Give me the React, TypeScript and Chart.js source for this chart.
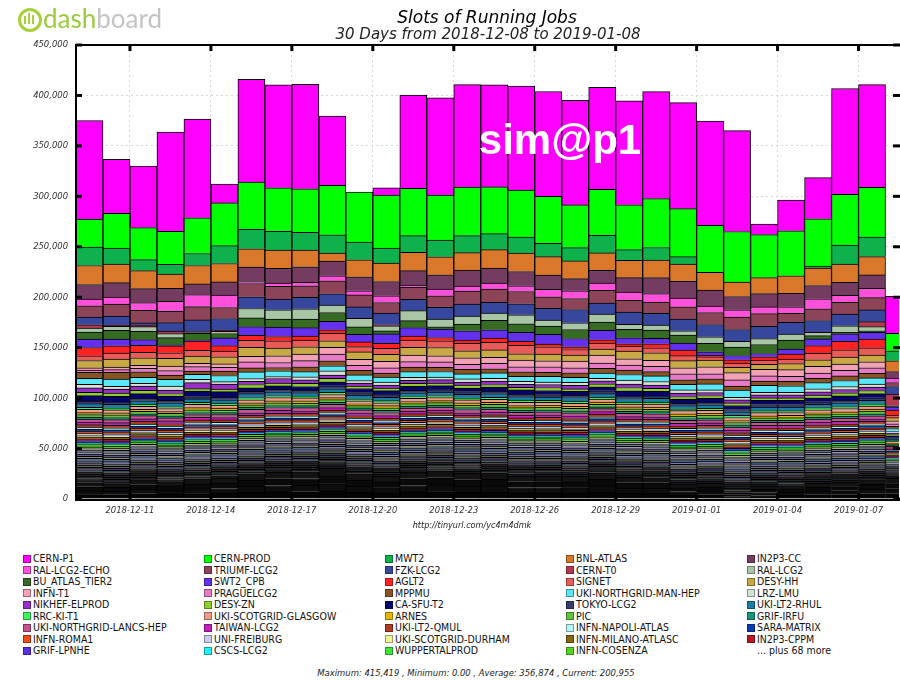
import React, { useEffect, useRef } from 'react';
import { Chart, registerables } from 'chart.js';

Chart.register(...registerables);

// ---------- categories / ticks ----------
const DAYS = [
  '2018-12-09', '2018-12-10', '2018-12-11', '2018-12-12', '2018-12-13', '2018-12-14', '2018-12-15', '2018-12-16',
  '2018-12-17', '2018-12-18', '2018-12-19', '2018-12-20', '2018-12-21', '2018-12-22', '2018-12-23', '2018-12-24',
  '2018-12-25', '2018-12-26', '2018-12-27', '2018-12-28', '2018-12-29', '2018-12-30', '2018-12-31', '2019-01-01',
  '2019-01-02', '2019-01-03', '2019-01-04', '2019-01-05', '2019-01-06', '2019-01-07', '2019-01-08',
];
const TICK_DAYS = [
  '2018-12-11', '2018-12-14', '2018-12-17', '2018-12-20', '2018-12-23',
  '2018-12-26', '2018-12-29', '2019-01-01', '2019-01-04', '2019-01-07',
];
const Y_TICKS = [0, 50000, 100000, 150000, 200000, 250000, 300000, 350000, 400000, 450000];

// ---------- series values (thousands of slots, one per day) ----------
const CERN_P1 = [97.8, 53.6, 61.1, 98.4, 97.8, 18.7, 101.9, 102.1, 103.5, 68.6, 0, 7.2, 92.4, 96.4, 101.7, 101.3, 103.0, 103.9, 103.7, 101.1, 103.0, 106.0, 105.1, 103.4, 100.1, 10.3, 30.4, 40.8, 105.0, 101.8, 36.7];
const CERN_PROD = [27.8, 34.4, 31.7, 32.7, 35.4, 42.3, 46.9, 43.2, 43.2, 49.0, 49.6, 52.6, 47.0, 44.6, 48.0, 46.3, 46.7, 46.6, 42.3, 45.5, 44.5, 48.5, 47.6, 46.7, 50.2, 42.6, 44.6, 46.9, 50.2, 49.5, 17.2];
const MWT2 = [18.2, 15.9, 10.9, 9.6, 11.9, 17.8, 19.2, 18.5, 17.5, 18.2, 17.5, 14.9, 16.5, 16.5, 16.9, 15.9, 15.9, 13.2, 13.2, 17.5, 10.6, 12.6, 7.3, 0, 0, 0, 0, 2.0, 18.8, 19.2, 9.9];
const BNL_ATLAS = [18.8, 18.5, 17.8, 14.2, 18.2, 18.2, 18.2, 18.2, 16.5, 7.9, 16.9, 18.2, 18.2, 17.8, 17.2, 18.2, 18.2, 18.2, 17.5, 17.2, 17.2, 17.2, 17.2, 17.5, 14.2, 15.9, 17.5, 17.2, 18.2, 18.2, 10.6];
const IN2P3_CC = [14.5, 14.2, 13.9, 12.9, 10.6, 13.2, 14.2, 14.5, 15.5, 14.5, 13.9, 14.2, 14.2, 14.2, 15.9, 14.9, 14.2, 14.2, 12.2, 12.6, 14.2, 15.9, 16.5, 15.9, 13.2, 13.2, 13.2, 13.2, 12.9, 13.2, 6.6];
const RAL_LCG2_ECHO = [6.6, 6.9, 7.6, 9.9, 11.9, 12.2, 2.0, 3.3, 3.3, 5.0, 4.0, 6.6, 2.3, 6.6, 5.0, 5.9, 5.6, 7.3, 7.6, 7.3, 8.3, 8.3, 8.6, 6.3, 7.3, 6.6, 6.6, 9.9, 6.9, 9.3, 4.3];
const TRIUMF_LCG2 = [11.2, 11.9, 12.6, 11.2, 13.2, 10.9, 13.2, 12.6, 11.6, 12.9, 11.9, 10.6, 11.9, 11.6, 12.9, 13.2, 12.2, 11.6, 10.9, 12.6, 11.6, 11.2, 12.2, 11.9, 12.2, 12.6, 8.9, 11.6, 11.6, 12.2, 4.0];
const FZK_LCG2 = [7.6, 9.3, 2.3, 8.3, 11.6, 11.6, 11.6, 10.6, 11.2, 11.2, 11.2, 11.6, 11.2, 11.6, 11.9, 10.6, 10.9, 11.6, 13.2, 10.9, 12.2, 11.6, 11.6, 12.2, 11.6, 12.2, 11.6, 11.6, 11.6, 11.6, 7.6];
const CERN_T0 = [3.3, 1.0, 1.3, 2.6, 0.7, 1.0, 0, 0, 0, 0, 0, 1.0, 0, 0, 0, 0, 0, 0, 0, 0, 0, 0, 0, 0, 0, 0, 0, 0, 0, 5.0, 11.5];
const RAL_LCG2 = [4.0, 4.0, 4.6, 4.0, 1.0, 2.3, 9.3, 9.3, 10.2, 7.3, 8.6, 5.0, 9.9, 7.6, 7.9, 7.3, 8.9, 5.9, 6.6, 7.9, 5.0, 5.0, 4.3, 6.6, 5.9, 5.9, 5.9, 3.3, 6.6, 4.0, 0.5];
const BU_ATLAS_TIER2 = [6.9, 8.6, 8.3, 7.3, 6.6, 4.3, 8.6, 7.9, 8.6, 8.9, 7.3, 3.0, 6.9, 2.3, 6.6, 9.3, 8.6, 8.3, 8.9, 8.3, 8.3, 8.3, 7.9, 8.3, 8.3, 8.9, 8.9, 3.3, 1.3, 1.7, 0.5];
const SWT2_CPB = [8.3, 6.6, 5.6, 0.7, 1.0, 7.6, 8.6, 9.3, 8.3, 8.3, 7.6, 9.3, 8.3, 8.3, 9.3, 8.3, 8.9, 9.6, 8.3, 9.3, 5.9, 5.3, 6.9, 3.3, 4.3, 3.3, 5.0, 6.6, 7.6, 6.6, 3.3];
const AGLT2 = [8.3, 7.3, 6.9, 6.9, 9.3, 5.6, 5.0, 4.3, 4.0, 3.6, 4.6, 5.0, 4.0, 3.3, 3.3, 4.0, 4.0, 2.6, 2.6, 3.3, 2.3, 4.0, 5.6, 1.7, 3.3, 3.3, 5.0, 7.6, 8.3, 8.6, 5.0];
const SIGNET = [4.6, 5.9, 5.6, 5.6, 5.6, 5.6, 6.9, 7.3, 6.6, 7.3, 5.3, 5.9, 7.3, 6.6, 7.3, 7.6, 8.3, 7.3, 5.6, 5.9, 5.0, 5.0, 5.0, 3.3, 4.0, 4.0, 4.5, 6.6, 7.3, 7.3, 2.5];
const DESY_HH = [7.3, 7.9, 7.5, 7.6, 7.2, 7.0, 8.9, 7.6, 7.2, 6.5, 7.3, 7.0, 7.6, 8.3, 6.9, 7.3, 6.3, 6.6, 6.0, 6.0, 7.6, 7.4, 7.0, 6.5, 5.3, 5.0, 6.0, 6.5, 6.8, 6.6, 3.0];
const INFN_T1 = [2.2, 2.6, 3.0, 4.5, 3.3, 3.5, 5.6, 6.6, 6.6, 6.7, 6.0, 6.5, 6.5, 6.0, 6.5, 6.0, 6.5, 6.0, 6.5, 8.0, 6.3, 6.0, 6.0, 7.0, 7.3, 6.6, 6.5, 6.5, 6.3, 6.0, 3.0];
const PRAGUELCG2 = [2.2, 2.7, 3.3, 4.5, 4.3, 3.5, 6.0, 5.0, 6.0, 6.6, 5.0, 5.0, 5.5, 5.5, 5.0, 5.5, 5.0, 5.5, 5.0, 5.0, 5.0, 5.2, 6.0, 5.0, 6.0, 5.0, 5.0, 5.3, 5.5, 5.5, 2.5];
const MPPMU = [6.0, 6.6, 5.6, 4.3, 3.3, 4.5, 3.9, 3.3, 4.9, 5.0, 4.5, 4.0, 4.5, 4.0, 4.5, 4.0, 4.5, 4.0, 4.5, 4.9, 4.3, 4.3, 4.5, 5.0, 4.0, 4.3, 4.5, 4.3, 4.5, 4.5, 2.2];
const UKI_NORTHGRID_MAN_HEP = [5.9, 7.3, 5.9, 6.6, 5.0, 6.0, 6.6, 5.6, 5.0, 4.9, 5.5, 5.0, 5.5, 5.5, 5.0, 5.5, 5.0, 5.5, 5.0, 5.0, 5.6, 5.5, 5.5, 6.0, 7.3, 7.0, 6.5, 6.0, 6.0, 6.0, 3.0];
const LRZ_LMU = [3.4, 2.6, 2.6, 4.0, 3.2, 2.5, 2.7, 2.0, 3.0, 4.3, 2.5, 3.0, 3.0, 2.5, 3.0, 2.5, 3.0, 2.5, 3.0, 2.5, 4.0, 3.5, 3.0, 2.5, 2.5, 2.5, 2.5, 3.0, 3.0, 3.0, 1.5];
const NIKHEF_ELPROD = [4.5, 3.9, 4.3, 3.3, 6.0, 5.0, 3.2, 4.6, 3.5, 3.3, 3.0, 3.0, 3.0, 3.5, 3.0, 3.5, 3.0, 3.0, 3.5, 3.0, 3.3, 3.3, 3.5, 3.0, 3.0, 3.0, 3.0, 3.2, 3.3, 3.5, 1.5];
const DESY_ZN = [3.4, 3.3, 3.3, 2.7, 2.4, 2.5, 3.4, 2.7, 3.2, 3.3, 2.5, 2.5, 3.0, 2.5, 3.0, 2.5, 2.5, 3.0, 2.5, 3.0, 3.3, 3.0, 2.5, 2.5, 2.5, 2.5, 2.5, 2.8, 3.0, 3.0, 1.2];
const CA_SFU_T2 = [5.3, 5.6, 4.3, 4.0, 5.5, 5.4, 3.3, 3.3, 3.5, 4.0, 4.0, 4.0, 4.0, 4.0, 3.5, 4.0, 4.0, 4.0, 3.5, 4.0, 5.0, 4.5, 4.0, 4.0, 4.0, 4.0, 4.0, 4.0, 4.2, 4.2, 2.0];
const TOKYO_LCG2 = [2.6, 2.4, 2.8, 2.5, 2.3, 2.7, 2.4, 2.6, 2.5, 2.9, 2.4, 2.6, 2.5, 2.3, 2.7, 2.5, 2.6, 2.4, 2.5, 2.8, 2.6, 2.4, 2.5, 2.7, 2.3, 2.5, 2.6, 2.4, 2.6, 2.5, 1.2];
const UKI_LT2_RHUL = [3.6, 3.4, 3.3, 3.7, 3.5, 3.2, 3.8, 3.6, 3.4, 3.5, 3.7, 3.3, 3.6, 3.5, 3.4, 3.8, 3.5, 3.3, 3.6, 3.4, 3.5, 3.7, 3.2, 3.5, 3.4, 3.6, 3.5, 3.3, 3.7, 3.5, 1.7];
const RRC_KI_T1 = [2.1, 1.9, 2.2, 2.0, 1.8, 2.1, 2.3, 2.0, 1.9, 2.2, 2.0, 2.1, 1.8, 2.0, 2.2, 1.9, 2.1, 2.0, 2.2, 1.9, 2.0, 2.1, 1.8, 2.0, 2.2, 2.0, 1.9, 2.1, 2.0, 2.2, 1.0];
const UKI_SCOTGRID_GLASGOW = [3.2, 3.0, 2.8, 3.1, 3.3, 2.9, 3.0, 3.2, 2.8, 3.1, 3.0, 2.9, 3.2, 3.1, 2.8, 3.0, 3.3, 2.9, 3.0, 3.1, 2.8, 3.0, 3.2, 2.9, 3.0, 3.1, 2.8, 3.0, 3.2, 2.9, 1.5];
const ARNES = [1.9, 2.1, 2.0, 1.8, 2.2, 2.0, 1.9, 2.1, 2.3, 2.0, 1.8, 2.1, 2.0, 1.9, 2.2, 2.0, 2.1, 1.8, 2.0, 2.2, 1.9, 2.0, 2.1, 1.8, 2.0, 2.1, 2.2, 1.9, 2.0, 2.1, 1.0];
const PIC = [2.4, 2.6, 2.5, 2.3, 2.7, 2.5, 2.4, 2.6, 2.5, 2.8, 2.3, 2.5, 2.6, 2.4, 2.5, 2.7, 2.4, 2.6, 2.3, 2.5, 2.6, 2.4, 2.5, 2.7, 2.3, 2.5, 2.6, 2.4, 2.5, 2.6, 1.2];
const GRIF_IRFU = [2.0, 2.2, 1.9, 2.1, 2.0, 1.8, 2.2, 2.0, 2.1, 1.9, 2.0, 2.2, 1.8, 2.1, 2.0, 1.9, 2.2, 2.0, 2.1, 1.8, 2.0, 2.1, 1.9, 2.0, 2.2, 1.9, 2.0, 2.1, 1.8, 2.0, 1.0];
const UKI_NORTHGRID_LANCS_HEP = [3.1, 2.9, 3.2, 3.0, 2.8, 3.1, 3.3, 2.9, 3.0, 3.2, 2.8, 3.0, 3.1, 2.9, 3.2, 3.0, 2.8, 3.1, 3.0, 2.9, 3.2, 3.0, 2.8, 3.1, 2.9, 3.0, 3.2, 2.9, 3.1, 3.0, 1.5];
const TAIWAN_LCG2 = [2.5, 2.7, 2.4, 2.6, 2.5, 2.3, 2.6, 2.8, 2.4, 2.5, 2.7, 2.4, 2.5, 2.6, 2.3, 2.5, 2.7, 2.4, 2.6, 2.5, 2.4, 2.6, 2.5, 2.3, 2.6, 2.5, 2.4, 2.7, 2.5, 2.4, 1.2];
const UKI_LT2_QMUL = [2.3, 2.5, 2.7, 2.4, 2.6, 2.5, 2.3, 2.5, 2.7, 2.4, 2.6, 2.5, 2.4, 2.6, 2.5, 2.3, 2.5, 2.7, 2.4, 2.6, 2.5, 2.3, 2.6, 2.5, 2.4, 2.6, 2.5, 2.7, 2.4, 2.5, 1.2];
const INFN_NAPOLI_ATLAS = [2.1, 2.0, 1.9, 2.2, 2.0, 2.1, 1.8, 2.0, 2.2, 2.1, 1.9, 2.0, 2.1, 1.8, 2.0, 2.2, 1.9, 2.1, 2.0, 1.9, 2.2, 2.0, 1.8, 2.1, 2.0, 1.9, 2.1, 2.0, 2.2, 1.9, 1.0];
const SARA_MATRIX = [2.0, 1.8, 2.1, 2.0, 2.2, 1.9, 2.0, 2.1, 1.8, 2.0, 2.2, 1.9, 2.0, 2.1, 1.9, 2.0, 1.8, 2.1, 2.0, 2.2, 1.9, 2.0, 2.1, 1.9, 2.0, 1.8, 2.1, 2.0, 1.9, 2.1, 1.0];
const INFN_ROMA1 = [1.9, 2.1, 2.0, 1.8, 2.0, 2.2, 2.1, 1.9, 2.0, 2.1, 1.8, 2.0, 2.2, 1.9, 2.0, 2.1, 2.0, 1.8, 2.1, 2.0, 1.9, 2.2, 2.0, 1.9, 2.1, 2.0, 1.8, 2.0, 2.1, 1.9, 1.0];
const UNI_FREIBURG = [2.1, 1.9, 2.0, 2.2, 1.8, 2.0, 2.1, 1.9, 2.2, 2.0, 1.9, 2.1, 2.0, 1.8, 2.1, 2.0, 2.2, 1.9, 2.0, 2.1, 1.8, 2.0, 1.9, 2.1, 2.0, 2.2, 1.9, 2.0, 2.1, 1.8, 1.0];
const UKI_SCOTGRID_DURHAM = [1.6, 1.4, 1.5, 1.7, 1.5, 1.3, 1.6, 1.5, 1.4, 1.6, 1.5, 1.7, 1.4, 1.5, 1.6, 1.4, 1.5, 1.6, 1.3, 1.5, 1.6, 1.4, 1.5, 1.7, 1.4, 1.5, 1.6, 1.5, 1.4, 1.6, 0.8];
const INFN_MILANO_ATLASC = [2.0, 2.1, 1.9, 2.0, 2.2, 1.8, 2.0, 2.1, 1.9, 2.2, 2.0, 1.8, 2.1, 2.0, 1.9, 2.1, 2.0, 2.2, 1.9, 2.0, 2.1, 1.9, 2.0, 1.8, 2.1, 2.0, 1.9, 2.1, 2.0, 2.2, 1.0];
const IN2P3_CPPM = [1.8, 1.7, 1.9, 1.8, 1.6, 1.9, 1.8, 2.0, 1.7, 1.8, 1.9, 1.7, 1.8, 2.0, 1.8, 1.6, 1.9, 1.8, 1.7, 1.9, 1.8, 1.7, 1.9, 1.8, 1.6, 1.8, 1.9, 1.7, 1.8, 2.0, 0.9];
const GRIF_LPNHE = [1.7, 1.9, 1.8, 1.6, 1.8, 2.0, 1.7, 1.8, 1.9, 1.7, 1.8, 1.9, 1.6, 1.8, 1.7, 1.9, 1.8, 1.7, 2.0, 1.8, 1.7, 1.9, 1.8, 1.6, 1.8, 1.9, 1.7, 1.8, 1.9, 1.7, 0.9];
const CSCS_LCG2 = [1.5, 1.6, 1.4, 1.5, 1.7, 1.5, 1.4, 1.6, 1.5, 1.3, 1.5, 1.6, 1.4, 1.5, 1.6, 1.5, 1.3, 1.5, 1.6, 1.4, 1.5, 1.7, 1.5, 1.4, 1.6, 1.5, 1.4, 1.5, 1.6, 1.5, 0.8];
const WUPPERTALPROD = [1.9, 1.7, 1.8, 1.9, 1.7, 1.8, 2.0, 1.8, 1.7, 1.9, 1.8, 1.7, 1.9, 1.8, 1.6, 1.8, 1.9, 1.7, 1.8, 2.0, 1.8, 1.7, 1.9, 1.8, 1.7, 1.9, 1.8, 1.6, 1.8, 1.9, 0.9];
const INFN_COSENZA = [1.8, 1.9, 1.7, 1.8, 2.0, 1.7, 1.8, 1.9, 1.8, 1.6, 1.8, 1.9, 1.7, 1.8, 1.9, 1.7, 1.8, 2.0, 1.8, 1.7, 1.9, 1.8, 1.7, 1.9, 1.8, 1.6, 1.8, 1.9, 1.7, 1.8, 0.9];

// "... plus 68 more": smaller sites, grouped
const MORE_01 = [2.2, 2.0, 2.4, 2.1, 2.3, 2.2, 2.0, 2.3, 2.1, 2.4, 2.2, 2.0, 2.3, 2.2, 2.1, 2.4, 2.2, 2.0, 2.3, 2.1, 2.2, 2.4, 2.0, 2.2, 2.3, 2.1, 2.2, 2.0, 2.3, 2.2, 1.1];
const MORE_02 = [2.1, 2.3, 2.2, 2.0, 2.4, 2.1, 2.3, 2.2, 2.0, 2.2, 2.4, 2.1, 2.2, 2.0, 2.3, 2.2, 2.1, 2.4, 2.2, 2.0, 2.3, 2.1, 2.2, 2.4, 2.0, 2.2, 2.3, 2.1, 2.2, 2.0, 1.1];
const MORE_03 = [2.3, 2.1, 2.0, 2.3, 2.2, 2.4, 2.1, 2.0, 2.3, 2.2, 2.1, 2.3, 2.0, 2.4, 2.2, 2.1, 2.3, 2.2, 2.0, 2.3, 2.1, 2.2, 2.4, 2.0, 2.2, 2.3, 2.1, 2.2, 2.0, 2.3, 1.1];
const MORE_04 = [2.0, 2.2, 2.3, 2.2, 2.0, 2.1, 2.4, 2.2, 2.2, 2.0, 2.3, 2.2, 2.1, 2.3, 2.0, 2.2, 2.4, 2.1, 2.2, 2.3, 2.0, 2.2, 2.1, 2.3, 2.2, 2.0, 2.4, 2.2, 2.1, 2.2, 1.1];
const MORE_05 = [2.4, 2.2, 2.1, 2.0, 2.3, 2.2, 2.2, 2.4, 2.1, 2.3, 2.0, 2.2, 2.4, 2.1, 2.2, 2.0, 2.3, 2.2, 2.1, 2.4, 2.2, 2.0, 2.3, 2.1, 2.2, 2.4, 2.0, 2.3, 2.2, 2.1, 1.1];
const MORE_06 = [2.2, 2.3, 2.0, 2.2, 2.1, 2.3, 2.2, 2.0, 2.4, 2.1, 2.2, 2.3, 2.0, 2.2, 2.4, 2.1, 2.0, 2.3, 2.2, 2.2, 2.4, 2.1, 2.0, 2.2, 2.3, 2.1, 2.2, 2.4, 2.0, 2.2, 1.1];
const MORE_07 = [2.1, 2.2, 2.3, 2.4, 2.0, 2.2, 2.1, 2.3, 2.2, 2.0, 2.1, 2.4, 2.2, 2.3, 2.0, 2.2, 2.1, 2.2, 2.4, 2.0, 2.2, 2.3, 2.1, 2.0, 2.2, 2.4, 2.1, 2.2, 2.3, 2.0, 1.1];
const MORE_08 = [2.3, 2.0, 2.2, 2.2, 2.4, 2.0, 2.3, 2.1, 2.2, 2.3, 2.0, 2.2, 2.1, 2.4, 2.2, 2.3, 2.0, 2.1, 2.2, 2.4, 2.0, 2.2, 2.3, 2.1, 2.0, 2.2, 2.4, 2.1, 2.2, 2.3, 1.1];
const MORE_09 = [2.2, 2.4, 2.1, 2.0, 2.2, 2.3, 2.2, 2.4, 2.0, 2.1, 2.3, 2.2, 2.2, 2.0, 2.4, 2.1, 2.3, 2.2, 2.0, 2.2, 2.1, 2.4, 2.2, 2.3, 2.0, 2.1, 2.2, 2.3, 2.4, 2.0, 1.1];
const MORE_10 = [2.0, 2.1, 2.3, 2.2, 2.2, 2.4, 2.0, 2.1, 2.3, 2.2, 2.4, 2.0, 2.2, 2.1, 2.3, 2.2, 2.0, 2.4, 2.1, 2.2, 2.3, 2.0, 2.2, 2.4, 2.1, 2.2, 2.0, 2.3, 2.2, 2.1, 1.1];
const MORE_11 = [2.4, 2.2, 2.2, 2.1, 2.0, 2.3, 2.2, 2.2, 2.4, 2.0, 2.1, 2.3, 2.2, 2.0, 2.2, 2.4, 2.1, 2.3, 2.2, 2.0, 2.2, 2.2, 2.4, 2.0, 2.3, 2.1, 2.2, 2.0, 2.3, 2.4, 1.1];
const MORE_12 = [2.1, 2.3, 2.0, 2.3, 2.2, 2.1, 2.4, 2.0, 2.2, 2.3, 2.2, 2.1, 2.4, 2.2, 2.0, 2.3, 2.2, 2.1, 2.0, 2.3, 2.4, 2.2, 2.1, 2.2, 2.0, 2.3, 2.1, 2.4, 2.2, 2.2, 1.1];
const MORE_13 = [2.2, 2.1, 2.4, 2.2, 2.1, 2.0, 2.3, 2.2, 2.1, 2.4, 2.0, 2.2, 2.3, 2.1, 2.2, 2.0, 2.4, 2.2, 2.3, 2.1, 2.0, 2.3, 2.2, 2.1, 2.4, 2.0, 2.2, 2.3, 2.1, 2.2, 1.1];
const MORE_14 = [2.3, 2.2, 2.1, 2.4, 2.2, 2.2, 2.0, 2.3, 2.2, 2.1, 2.2, 2.4, 2.0, 2.3, 2.1, 2.2, 2.2, 2.0, 2.4, 2.2, 2.1, 2.0, 2.3, 2.2, 2.2, 2.4, 2.1, 2.0, 2.3, 2.1, 1.1];
const MORE_15 = [2.0, 2.4, 2.2, 2.1, 2.3, 2.0, 2.2, 2.4, 2.1, 2.2, 2.3, 2.0, 2.2, 2.4, 2.1, 2.3, 2.2, 2.1, 2.0, 2.2, 2.4, 2.1, 2.2, 2.3, 2.2, 2.0, 2.3, 2.2, 2.1, 2.4, 1.1];
const MORE_16 = [2.2, 2.2, 2.3, 2.0, 2.4, 2.1, 2.2, 2.0, 2.3, 2.2, 2.1, 2.2, 2.4, 2.0, 2.3, 2.1, 2.2, 2.3, 2.2, 2.1, 2.0, 2.4, 2.1, 2.2, 2.3, 2.2, 2.0, 2.1, 2.4, 2.3, 1.1];
const TAIL_1 = [4.3, 4.1, 5.1, 4.6, 5.3, 5.5, 6.6, 7.0, 7.1, 7.9, 6.6, 5.9, 7.0, 7.3, 6.7, 6.8, 6.0, 6.0, 5.9, 6.8, 5.7, 5.6, 4.0, 4.2, 2.4, 3.5, 3.6, 4.2, 4.4, 5.1, 5.4];
const TAIL_2 = [3.7, 3.5, 4.5, 4.0, 4.7, 4.9, 6.0, 6.4, 6.5, 7.3, 6.0, 5.3, 6.4, 6.7, 6.1, 6.2, 5.4, 5.4, 5.3, 6.2, 5.1, 5.0, 3.4, 3.6, 1.8, 2.9, 3.0, 3.6, 3.8, 4.5, 4.8];
const TAIL_3 = [4.1, 3.9, 4.7, 4.4, 4.9, 5.3, 6.2, 6.8, 6.7, 7.7, 6.2, 5.7, 6.6, 7.1, 6.3, 6.6, 5.6, 5.8, 5.5, 6.6, 5.3, 5.4, 3.6, 4.0, 2.0, 3.3, 3.2, 4.0, 4.0, 4.9, 5.0];
const TAIL_4 = [3.9, 3.7, 4.9, 4.2, 5.1, 5.1, 6.4, 6.6, 6.9, 7.5, 6.4, 5.5, 6.8, 6.9, 6.5, 6.4, 5.8, 5.6, 5.7, 6.4, 5.5, 5.2, 3.8, 3.8, 2.2, 3.1, 3.4, 3.8, 4.2, 4.7, 5.2];

// legend order (largest first); stacked bottom-up in reverse
const NAMED: [string, string, number[]][] = [
  ['CERN-P1', '#ff00ff', CERN_P1],
  ['CERN-PROD', '#00ff00', CERN_PROD],
  ['MWT2', '#0fb14c', MWT2],
  ['BNL-ATLAS', '#d9782b', BNL_ATLAS],
  ['IN2P3-CC', '#743c60', IN2P3_CC],
  ['RAL-LCG2-ECHO', '#ff50dc', RAL_LCG2_ECHO],
  ['TRIUMF-LCG2', '#8e4458', TRIUMF_LCG2],
  ['FZK-LCG2', '#36479d', FZK_LCG2],
  ['CERN-T0', '#b23a50', CERN_T0],
  ['RAL-LCG2', '#a8c6a6', RAL_LCG2],
  ['BU_ATLAS_TIER2', '#356b22', BU_ATLAS_TIER2],
  ['SWT2_CPB', '#6331ee', SWT2_CPB],
  ['AGLT2', '#ff2222', AGLT2],
  ['SIGNET', '#e85b58', SIGNET],
  ['DESY-HH', '#c8a946', DESY_HH],
  ['INFN-T1', '#f2a2b4', INFN_T1],
  ['PRAGUELCG2', '#e87ac8', PRAGUELCG2],
  ['MPPMU', '#895425', MPPMU],
  ['UKI-NORTHGRID-MAN-HEP', '#5ae7f7', UKI_NORTHGRID_MAN_HEP],
  ['LRZ-LMU', '#d2e3d6', LRZ_LMU],
  ['NIKHEF-ELPROD', '#9a2fc7', NIKHEF_ELPROD],
  ['DESY-ZN', '#8ecf2d', DESY_ZN],
  ['CA-SFU-T2', '#05046b', CA_SFU_T2],
  ['TOKYO-LCG2', '#363c6e', TOKYO_LCG2],
  ['UKI-LT2-RHUL', '#1a7da8', UKI_LT2_RHUL],
  ['RRC-KI-T1', '#3cf25c', RRC_KI_T1],
  ['UKI-SCOTGRID-GLASGOW', '#ef9a8b', UKI_SCOTGRID_GLASGOW],
  ['ARNES', '#e5b505', ARNES],
  ['PIC', '#5ec43c', PIC],
  ['GRIF-IRFU', '#17977a', GRIF_IRFU],
  ['UKI-NORTHGRID-LANCS-HEP', '#c45390', UKI_NORTHGRID_LANCS_HEP],
  ['TAIWAN-LCG2', '#c21fbe', TAIWAN_LCG2],
  ['UKI-LT2-QMUL', '#b23b22', UKI_LT2_QMUL],
  ['INFN-NAPOLI-ATLAS', '#b5f3f1', INFN_NAPOLI_ATLAS],
  ['SARA-MATRIX', '#0b3cb3', SARA_MATRIX],
  ['INFN-ROMA1', '#ef4d14', INFN_ROMA1],
  ['UNI-FREIBURG', '#c9cdf2', UNI_FREIBURG],
  ['UKI-SCOTGRID-DURHAM', '#f3f09a', UKI_SCOTGRID_DURHAM],
  ['INFN-MILANO-ATLASC', '#85670f', INFN_MILANO_ATLASC],
  ['IN2P3-CPPM', '#bf1520', IN2P3_CPPM],
  ['GRIF-LPNHE', '#5a30e6', GRIF_LPNHE],
  ['CSCS-LCG2', '#1ff2f2', CSCS_LCG2],
  ['WUPPERTALPROD', '#3ee53d', WUPPERTALPROD],
  ['INFN-COSENZA', '#54d31c', INFN_COSENZA],
];

// bottom-up order of the unnamed small sites
const OTHERS: [string, string, number[]][] = [
  ['other-t1', '#050505', TAIL_1],
  ['other-t2', '#0d0d0d', TAIL_2],
  ['other-t3', '#0a0a0a', TAIL_3],
  ['other-t4', '#131313', TAIL_4],
  ['other-01', '#1c1c1c', MORE_01],
  ['other-02', '#242430', MORE_02],
  ['other-03', '#1e2a22', MORE_03],
  ['other-04', '#2e2030', MORE_04],
  ['other-05', '#303030', MORE_05],
  ['other-06', '#3a4a5a', MORE_06],
  ['other-07', '#4a3a6a', MORE_07],
  ['other-08', '#5a6a4a', MORE_08],
  ['other-09', '#6a6a7a', MORE_09],
  ['other-10', '#7a7aa8', MORE_10],
  ['other-11', '#4a6a8a', MORE_11],
  ['other-12', '#8a8a70', MORE_12],
  ['other-13', '#5a5a8a', MORE_13],
  ['other-14', '#9a9ab0', MORE_14],
  ['other-15', '#6a7a8a', MORE_15],
  ['other-16', '#a8a890', MORE_16],
];

const COND = '"DejaVu Sans Condensed", "DejaVu Sans", sans-serif';
const COL_X = [23, 204, 385, 566, 747];

const framePlugin = {
  id: 'frame',
  afterDatasetsDraw(chart: any) {
    const { ctx, chartArea: a, scales } = chart;
    ctx.save();
    ctx.fillStyle = '#000';
    ctx.fillRect(a.left - 1, a.top - 1, 2, a.bottom - a.top + 3);
    ctx.fillRect(a.left - 1, a.top - 1, a.right - a.left + 2, 2);
    ctx.fillRect(a.left - 1, a.bottom, a.right - a.left + 2, 2);
    for (const v of Y_TICKS) {
      const y = scales.y.getPixelForValue(v);
      ctx.fillRect(a.left, y - 1.5, 6, 3);
      ctx.fillRect(a.right - 6, y - 1.5, 7, 3);
    }
    for (const d of TICK_DAYS) {
      const x = scales.x.getPixelForValue(DAYS.indexOf(d));
      ctx.fillRect(x - 1.5, a.top, 3, 6);
      ctx.fillRect(x - 1.5, a.bottom - 6, 3, 6);
    }
    ctx.restore();
  },
};

export default function App() {
  const ref = useRef<HTMLCanvasElement | null>(null);

  useEffect(() => {
    if (!ref.current) return;
    const stack = [...OTHERS, ...NAMED.slice().reverse()];
    const datasets = stack.map(([label, color, vals]) => ({
      label,
      data: vals.map((v, i) => ({ x: i + 0.5, y: v * 1000 })),
      backgroundColor: color,
      borderColor: '#000',
      borderWidth: 1,
      barPercentage: 1,
      categoryPercentage: 1,
    }));
    const tickFont = { family: COND, size: 9.4, style: 'italic' as const };
    const chart = new Chart(ref.current, {
      type: 'bar',
      data: { datasets },
      options: {
        animation: false,
        responsive: false,
        devicePixelRatio: 1,
        events: [],
        layout: { padding: { top: 45, right: 1, left: 0, bottom: 0 } },
        plugins: { legend: { display: false }, tooltip: { enabled: false }, title: { display: false } },
        scales: {
          x: {
            type: 'linear',
            stacked: true,
            offset: false,
            min: 0,
            max: 30.5,
            afterBuildTicks: (scale: any) => {
              scale.ticks = TICK_DAYS.map((d) => ({ value: DAYS.indexOf(d) }));
            },
            afterFit: (scale: any) => {
              scale.height = 31;
            },
            ticks: {
              autoSkip: false,
              maxRotation: 0,
              minRotation: 0,
              padding: 6,
              color: '#333',
              font: tickFont,
              callback: (v: any) => DAYS[v as number] ?? '',
            },
            grid: { color: '#d6d6d6', drawTicks: false, offset: false },
            border: { display: false, dash: [2, 3] },
          },
          y: {
            stacked: true,
            min: 0,
            max: 450000,
            afterBuildTicks: (scale: any) => {
              scale.ticks = Y_TICKS.map((v) => ({ value: v }));
            },
            afterFit: (scale: any) => {
              scale.width = 76;
            },
            ticks: {
              padding: 8,
              color: '#333',
              font: tickFont,
              callback: (v: any) => Number(v).toLocaleString('en-US'),
            },
            grid: { color: '#d6d6d6', drawTicks: false },
            border: { display: false, dash: [2, 3] },
          },
        },
      },
      plugins: [framePlugin],
    } as any);
    return () => chart.destroy();
  }, []);

  const legendItems: { name: string; color: string | null }[] = NAMED.map(([n, c]) => ({ name: n, color: c }));
  legendItems.push({ name: '... plus 68 more', color: null });

  return (
    <div
      style={{
        position: 'absolute',
        left: 0,
        top: 0,
        width: 900,
        height: 680,
        background: '#fff',
        overflow: 'hidden',
        fontFamily: '"DejaVu Sans", sans-serif',
      }}
    >
      <canvas ref={ref} width={900} height={530} style={{ position: 'absolute', left: 0, top: 0 }} />

      {/* logo */}
      <div
        style={{
          position: 'absolute',
          left: 18,
          top: 8,
          width: 24,
          height: 24,
          borderRadius: '50%',
          border: '3px solid #a6cf3b',
          boxSizing: 'border-box',
        }}
      />
      <div style={{ position: 'absolute', left: 24, top: 16, width: 2, height: 8, background: '#a6cf3b' }} />
      <div style={{ position: 'absolute', left: 28, top: 13, width: 2, height: 11, background: '#a6cf3b' }} />
      <div style={{ position: 'absolute', left: 32, top: 15, width: 2, height: 9, background: '#a6cf3b' }} />
      <div
        style={{
          position: 'absolute',
          left: 43,
          top: 2,
          fontFamily: 'Lato, "Noto Sans", sans-serif',
          fontSize: 26,
          lineHeight: '32px',
          color: '#c4c4c4',
          whiteSpace: 'nowrap',
        }}
      >
        <span style={{ color: '#9bcb3b' }}>dash</span>board
      </div>

      {/* titles */}
      <div
        style={{
          position: 'absolute',
          left: 487,
          top: 7,
          transform: 'translateX(-50%)',
          fontSize: 17,
          lineHeight: '20px',
          fontStyle: 'italic',
          color: '#000',
          whiteSpace: 'nowrap',
        }}
      >
        Slots of Running Jobs
      </div>
      <div
        style={{
          position: 'absolute',
          left: 488,
          top: 25,
          transform: 'translateX(-50%)',
          fontSize: 15,
          lineHeight: '18px',
          fontStyle: 'italic',
          color: '#222',
          whiteSpace: 'nowrap',
        }}
      >
        30 Days from 2018-12-08 to 2019-01-08
      </div>

      {/* watermark */}
      <div
        style={{
          position: 'absolute',
          left: 560,
          top: 116,
          transform: 'translateX(-50%)',
          fontFamily: '"Liberation Sans", Arial, sans-serif',
          fontWeight: 'bold',
          fontSize: 42,
          lineHeight: '48px',
          color: '#fff',
          whiteSpace: 'nowrap',
        }}
      >
        sim@p1
      </div>

      {/* url */}
      <div
        style={{
          position: 'absolute',
          left: 472,
          top: 519,
          transform: 'translateX(-50%)',
          fontFamily: COND,
          fontSize: 9,
          lineHeight: '12px',
          fontStyle: 'italic',
          color: '#222',
          whiteSpace: 'nowrap',
        }}
      >
        http://tinyurl.com/yc4m4dmk
      </div>

      {/* legend */}
      {legendItems.map((it, k) => {
        const row = Math.floor(k / 5);
        const col = k % 5;
        const cy = 558.5 + 11.5 * row;
        return (
          <React.Fragment key={it.name}>
            {it.color && (
              <div
                style={{
                  position: 'absolute',
                  left: COL_X[col],
                  top: cy - 4,
                  width: 8,
                  height: 8,
                  boxSizing: 'border-box',
                  background: it.color,
                  border: '1px solid rgba(0,0,0,0.35)',
                }}
              />
            )}
            <div
              style={{
                position: 'absolute',
                left: COL_X[col] + 10,
                top: cy - 6.2,
                fontFamily: COND,
                fontSize: 10.5,
                lineHeight: '12px',
                color: '#111',
                whiteSpace: 'nowrap',
              }}
            >
              {it.name}
            </div>
          </React.Fragment>
        );
      })}

      {/* footer */}
      <div
        style={{
          position: 'absolute',
          left: 476,
          top: 667,
          transform: 'translateX(-50%)',
          fontFamily: COND,
          fontSize: 9.4,
          lineHeight: '12px',
          fontStyle: 'italic',
          color: '#222',
          whiteSpace: 'nowrap',
        }}
      >
        Maximum: 415,419 , Minimum: 0.00 , Average: 356,874 , Current: 200,955
      </div>
    </div>
  );
}
